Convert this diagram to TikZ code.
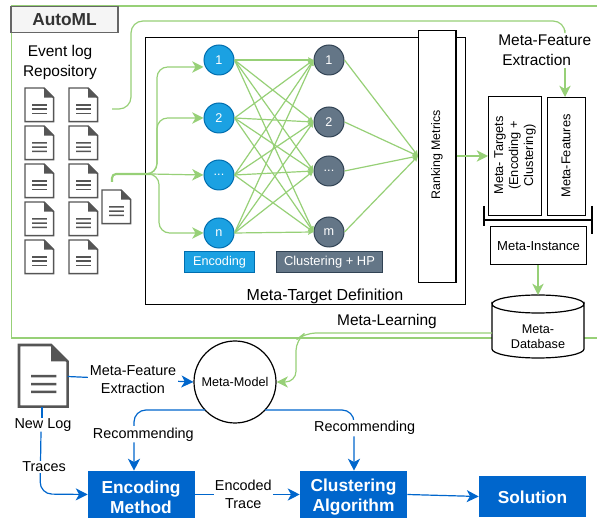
\documentclass[tikz,border=0pt]{standalone}
\usepackage{fontspec}
\setmainfont{Liberation Sans}
\usetikzlibrary{arrows.meta,calc,shapes.geometric}
\definecolor{gr}{HTML}{97D077}
\definecolor{bl}{HTML}{0066CC}
\definecolor{nblue}{HTML}{1BA1E2}
\definecolor{nblued}{HTML}{006EAF}
\definecolor{nslate}{HTML}{647687}
\definecolor{nslated}{HTML}{314354}
\definecolor{docg}{HTML}{555555}
\newcommand{\docicon}[5]{% name, left, top, width, height
  \node[inner sep=0,minimum width=#4*0.75pt,minimum height=#5*0.75pt,anchor=north west] (#1) at (#2,#3) {};
  \pgfmathsetmacro{\fw}{#4*0.34}
  \pgfmathsetmacro{\lw}{#4/28}
  \draw[docg,fill=white,line width=\lw*1.1pt] (#1.north west) -- ($(#1.north east)+(-\fw,0)$) -- ($(#1.north east)+(0,\fw)$) -- (#1.south east) -- (#1.south west) -- cycle;
  \fill[docg] ($(#1.north east)+(-\fw,0)$) -- ($(#1.north east)+(0,\fw)$) -- ($(#1.north east)+(-\fw,\fw)$) -- cycle;
  \foreach \k in {0.51,0.64,0.77}{
    \draw[docg,line width=\lw*1.1pt] ($(#1.north west)!0.25!(#1.north east)+(0,#5*\k)$) -- ($(#1.north west)!0.77!(#1.north east)+(0,#5*\k)$);
  }
}
\tikzset{
  grline/.style={draw=gr,line width=0.9pt},
  grarrow/.style={grline,-{Stealth[length=8.5pt,width=8.5pt,inset=2.5pt]}},
  gmesh/.style={grline,line width=0.9pt,-{Stealth[length=4pt,width=4pt,inset=0.5pt]}},
  blline/.style={draw=bl,line width=0.9pt},
  blarrow/.style={blline,-{Stealth[length=9pt,width=9pt,inset=2.5pt]}},
  enc/.style={circle,draw=nblued,fill=nblue,text=white,minimum size=22.5pt,inner sep=0,font=\fontsize{9.5}{10}\selectfont,line width=0.75pt},
  clu/.style={circle,draw=nslated,fill=nslate,text=white,minimum size=22.5pt,inner sep=0,font=\fontsize{9.5}{10}\selectfont,line width=0.75pt},
  box/.style={draw=black,fill=white,line width=0.9pt,inner sep=0},
  lbl/.style={inner sep=0,align=center,font=\fontsize{11.6}{14}\selectfont},
  slbl/.style={inner sep=1pt,align=center,font=\fontsize{10.8}{13.5}\selectfont,fill=white},
  bluebox/.style={fill=bl,inner sep=0},
  bluetxt/.style={text=white,inner sep=0,align=center,font=\bfseries\fontsize{13}{15}\selectfont},
  vtxt/.style={rotate=90,inner sep=0,align=center,font=\fontsize{9.6}{11.2}\selectfont},
}
\begin{document}
\begin{tikzpicture}[x=0.75pt,y=-0.75pt]
\useasboundingbox (0,0) rectangle (597,520);
% outer frame
\coordinate (frTR) at (597,6);
\coordinate (frBR) at (597,338);
\coordinate (frBL) at (11.5,338);
\draw[gr,line width=0.9pt] (frTR) -- (11.5,6) -- (frBL) -- (492,338);
\draw[gr,line width=0.9pt] (584,338) -- (frBR);
\node[draw=black!60,fill=black!4,line width=0.9pt,minimum width=80.25pt,minimum height=19.5pt,inner sep=0,font=\bfseries\fontsize{13}{15}\selectfont,text=black!80] (automl) at (64.5,19.5) {AutoML};
\node[lbl] (repo) at (60,63) {Event log\\[1pt]Repository};
% documents
\foreach \r/\y in {1/88,2/126,3/164,4/202,5/240}{
  \docicon{da\r}{25}{\y}{28}{33}
  \docicon{db\r}{69}{\y}{28}{33}
}
\docicon{dx}{102}{190}{28}{33}
% meta-target box
\node[box,minimum width=240pt,minimum height=200.25pt,anchor=north west] (mt) at (145,37) {};
\node[lbl,anchor=south,font=\fontsize{12}{14}\selectfont] (mtl) at (325,304) {Meta-Target Definition};
\node[box,minimum width=28pt,minimum height=189pt,anchor=north west] (rank) at (418,30) {};
\node[vtxt,font=\fontsize{9.3}{11}\selectfont] (ranktxt) at (437,155) {Ranking Metrics};
% network nodes
\node[enc] (e1) at (219,60) {1};
\node[enc] (e2) at (219,118) {2};
\node[enc] (e3) at (219,175) {...};
\node[enc] (e4) at (219,233) {n};
\node[clu] (c1) at (329,60) {1};
\node[clu] (c2) at (329,122) {2};
\node[clu] (c3) at (329,171) {...};
\node[clu] (c4) at (329,232) {m};
\foreach \i in {1,...,4}{\foreach \j in {1,...,4}{
  \draw[gmesh] (e\i.east) -- (c\j.west);
}}
\coordinate (rk) at (418,156);
\foreach \j in {1,...,4}{\draw[gmesh] (c\j.east) -- (rk);}
\node[fill=nblue,draw=nblued,line width=0.6pt,text=white,minimum width=52.5pt,minimum height=16pt,inner sep=0,font=\fontsize{9.5}{11}\selectfont] (encl) at (219.5,262) {Encoding};
\node[fill=nslate,draw=nslated,line width=0.6pt,text=white,minimum width=80pt,minimum height=16pt,inner sep=0,font=\fontsize{9.7}{11}\selectfont] (clul) at (329.5,262) {Clustering + HP};
% doc to network
\coordinate (ds) at (112,182);
\coordinate (dj) at (150,174);
\draw[grline,line width=1.6pt,rounded corners=3pt] (ds) -- (112,174) -- (dj);
\draw[grarrow,rounded corners=8pt] (dj) -- (157,174) -- (157,67) -- (e1.west |- 0,67);
\draw[grarrow,rounded corners=8pt] (dj) -- (157,174) -- (157,118) -- (e2.west);
\draw[grarrow] (dj) -- (e3.west);
\draw[grarrow,rounded corners=8pt] (dj) -- (159,174) -- (159,233) -- (e4.west);
% right side
\node[box,minimum width=39.75pt,minimum height=89.25pt,anchor=north west] (mtg) at (488,96) {};
\node[vtxt] (mtgt) at (515,155.5) {Meta- Targets\\(Encoding +\\Clustering)};
\node[box,minimum width=28.5pt,minimum height=88.5pt,anchor=north west] (mf) at (547,97) {};
\node[vtxt] (mft) at (566,156) {Meta-Features};
\draw[grarrow] (rank.east |- rk) -- (mtg.west |- rk);
\node[lbl,align=left,anchor=west] (mfe) at (498,50) {Meta-Feature\\[1pt]\hspace*{3pt}Extraction};
\coordinate (top1) at (112,109);
\draw[grline,rounded corners=9pt] (top1) -- (131,109) -- (131,21) -- (565,21) -- (565,30);
\draw[grarrow] (565,68) -- (mf.north -| 565,0);
% bracket
\coordinate (brL) at (484,220);
\coordinate (brR) at (592,220);
\draw[black,line width=0.9pt] (brL) -- (brR);
\draw[black,line width=0.9pt] (484,206) -- (484,226);
\draw[black,line width=0.9pt] (592,206) -- (592,234);
\node[box,minimum width=72pt,minimum height=28.5pt,anchor=north west,font=\fontsize{9.8}{12}\selectfont] (mi) at (490,226) {Meta-Instance};
% database
\node[inner sep=0,minimum width=69pt,minimum height=47pt,anchor=north west] (dbn) at (492,295) {};
\draw[black,fill=white,line width=0.9pt] (492,304) arc[start angle=180,end angle=360,x radius=46,y radius=-9] -- (584,349) arc[start angle=0,end angle=-180,x radius=46,y radius=-9] -- cycle;
\draw[black,line width=0.9pt] (492,304) arc[start angle=180,end angle=0,x radius=46,y radius=-9];
\node[inner sep=0,align=center,font=\fontsize{9.5}{11.5}\selectfont] (dbt) at (538,337) {Meta-\\Database};
\draw[grarrow] (mi.south -| 538,0) -- (538,295);
% meta-learning
\node[lbl] (ml) at (387,322) {Meta-Learning};
\node[circle,draw=black,fill=white,line width=0.9pt,minimum size=61.5pt,inner sep=0,font=\fontsize{9.5}{11}\selectfont] (mm) at (235,382) {Meta-Model};
\draw[grarrow,rounded corners=8pt] (492,333) -- (305,333) -- (296,340) -- (296,382) -- (mm.east);
% lower part
\docicon{nl}{19}{345}{48}{61}
\node[inner sep=0,minimum width=0pt,font=\fontsize{10.8}{13}\selectfont] (nlt) at (43,425) {New Log};
\node[bluebox,minimum width=80.25pt,minimum height=35.25pt] (em) at (141.5,494.5) {};
\node[bluetxt] (emt) at (141,497) {Encoding\\Method};
\node[bluebox,minimum width=80.25pt,minimum height=35.25pt] (ca) at (353.5,494.5) {};
\node[bluetxt] (cat) at (353.5,497) {Clustering\\Algorithm};
\node[bluebox,minimum width=80.25pt,minimum height=30.75pt] (sol) at (532.5,496.5) {};
\node[bluetxt] (solt) at (532.5,497.5) {Solution};
\draw[blarrow] (nl.east |- 0,376.5) -- node[slbl,pos=0.52]{Meta-Feature\\Extraction} (mm.west);
\draw[blline] (42,407) -- (nlt.north -| 42,0);
\draw[blarrow,rounded corners=9pt] (nlt.south -| 41,0) -- (40,494) -- (em.west);
\node[slbl] (trc) at (44,467) {Traces};
\draw[blarrow,rounded corners=9pt] (205,410) -- (134,410) -- node[slbl,pos=0.4,xshift=7pt]{Recommending} (em.north -| 134,0);
\draw[blarrow,rounded corners=9pt] (265,410) -- (354,410) -- node[slbl,pos=0.3,xshift=8pt]{Recommending} (ca.north -| 354,0);
\draw[blarrow] (em.east) -- node[slbl,pos=0.46]{Encoded\\Trace} (ca.west);
\draw[blarrow] (ca.east) -- (sol.west);
\end{tikzpicture}
\end{document}
